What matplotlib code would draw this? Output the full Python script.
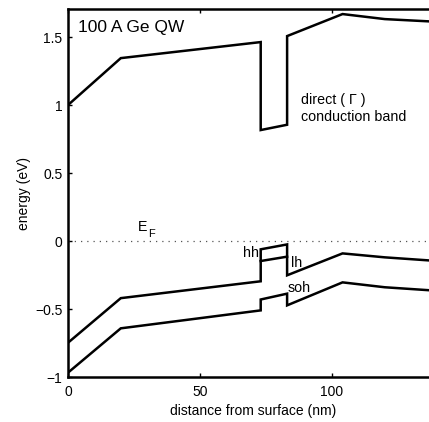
import matplotlib
matplotlib.use("Agg")
import matplotlib.pyplot as plt

plt.rcParams['font.family'] = ['Liberation Sans', 'DejaVu Sans']

# conduction band (direct Gamma)
cb_x = [0, 20, 73, 73, 83, 83, 104, 120, 140]
cb_y = [1.00, 1.345, 1.463, 0.816, 0.855, 1.507, 1.669, 1.632, 1.612]
# heavy hole band
hh_x = [0, 20, 73, 73, 83, 83, 104, 120, 140]
hh_y = [-0.748, -0.42, -0.296, -0.061, -0.025, -0.252, -0.091, -0.12, -0.147]
# light hole level in the well
lh_x = [73, 83]
lh_y = [-0.147, -0.115]
# split-off hole band
soh_x = [0, 20, 73, 73, 83, 83, 104, 120, 140]
soh_y = [-0.968, -0.642, -0.51, -0.43, -0.387, -0.473, -0.304, -0.34, -0.366]

xticks = [0, 50, 100]
yticks = [-1, -0.5, 0, 0.5, 1, 1.5]
yticklabels = ['\u22121', '\u22120.5', '0', '0.5', '1', '1.5']

fig = plt.figure(figsize=(4.29, 4.22), dpi=100)
ax = fig.add_axes([0.1585, 0.1066, 0.8615, 0.872])

lw = 1.8
ax.plot(cb_x, cb_y, color='black', lw=lw, solid_joinstyle='miter')
ax.plot(hh_x, hh_y, color='black', lw=lw, solid_joinstyle='miter')
ax.plot(lh_x, lh_y, color='black', lw=lw)
ax.plot(soh_x, soh_y, color='black', lw=lw, solid_joinstyle='miter')
ax.axhline(0, color='#555555', lw=0.9, ls=(0, (1, 4)))

ax.set_xlim(0, 140)
ax.set_ylim(-1, 1.706)
ax.set_xticks(xticks)
ax.set_yticks(yticks)
ax.set_yticklabels(yticklabels)
ax.tick_params(direction='in', length=3, width=1, top=True, right=True, labelsize=10)
ax.tick_params(axis='x', pad=6)
ax.tick_params(axis='y', pad=4)
for s in ax.spines.values():
    s.set_linewidth(1.8)

ax.set_xlabel('distance from surface (nm)', fontsize=10, labelpad=3)
ax.set_ylabel('energy (eV)', fontsize=10, labelpad=3)

ax.text(3.8, 1.573, '100 A Ge QW', fontsize=12.5, va='center', ha='left')
ax.text(88.3, 1.037, 'direct ( \u0393 )', fontsize=10.3, va='center', ha='left')
ax.text(88.3, 0.91, 'conduction band', fontsize=10.3, va='center', ha='left')
ax.text(26.5, 0.10, 'E', fontsize=10.3, va='center', ha='left')
ax.text(30.2, 0.05, 'F', fontsize=8, va='center', ha='left')
ax.text(72.2, -0.086, 'hh', fontsize=10.3, va='center', ha='right')
ax.text(84.5, -0.16, 'lh', fontsize=10.3, va='center', ha='left')
ax.text(83.3, -0.345, 'soh', fontsize=10.3, va='center', ha='left')

fig.savefig('out.png', dpi=100)
